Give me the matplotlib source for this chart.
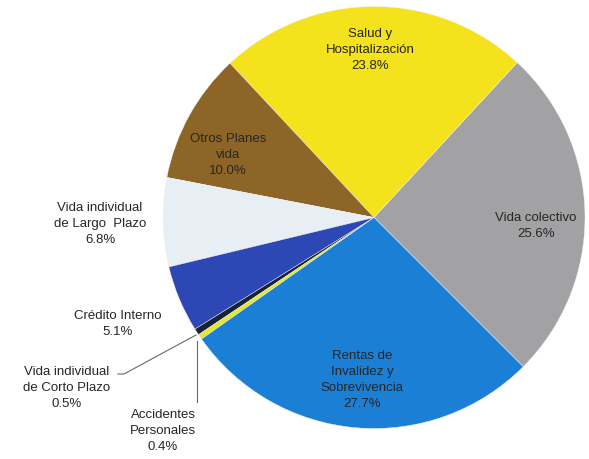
import matplotlib.pyplot as plt

# participación por ramo (%), en el orden en que se dibujan (antihorario)
ramos = ['Vida colectivo', 'Salud y\nHospitalización', 'Otros Planes\nvida',
         'Vida individual\nde Largo  Plazo', 'Crédito Interno',
         'Vida individual\nde Corto Plazo', 'Accidentes\nPersonales',
         'Rentas de\nInvalidez y\nSobrevivencia']
participacion = [25.6, 23.8, 10.0, 6.8, 5.1, 0.5, 0.4, 27.7]
colores = ['#a2a2a4', '#f3e21c', '#8d6527', '#e7eff5', '#2d47b5',
           '#15243a', '#e4e632', '#1b7fd5']

plt.rcParams['font.family'] = ['Liberation Sans', 'DejaVu Sans']

W, H = 589, 460
fig = plt.figure(figsize=(W / 100, H / 100), dpi=100)
ax = fig.add_axes([0, 0, 1, 1])

cx, cy, r = 374, H - 218.5, 211
ax.pie(participacion, colors=colores, startangle=-45, counterclock=True,
       center=(cx, cy), radius=r, frame=True,
       wedgeprops=dict(edgecolor='#f4f4f4', linewidth=0.3))
ax.set_xlim(0, W)
ax.set_ylim(0, H)
ax.set_aspect('equal')
ax.axis('off')

# posición de cada etiqueta (x, y desde arriba)
pos_etiquetas = [(536, 226), (370, 50), (228, 155), (100, 224),
                 (118, 324), (67, 388), (163, 431), (362, 380)]

for nombre, valor, (x, y) in zip(ramos, participacion, pos_etiquetas):
    ax.text(x, H - y, f'{nombre}\n{valor:.1f}%', ha='center', va='center',
            fontsize=9.5, color='#262626', linespacing=1.45)

# líneas guía para los sectores pequeños
ax.plot([118, 124, 196], [H - 375, H - 375, H - 336], color='#6a6a6a', lw=0.8)
ax.plot([197, 197], [H - 342, H - 403], color='#6a6a6a', lw=0.8)

fig.savefig('out.png', dpi=100, facecolor='white')
